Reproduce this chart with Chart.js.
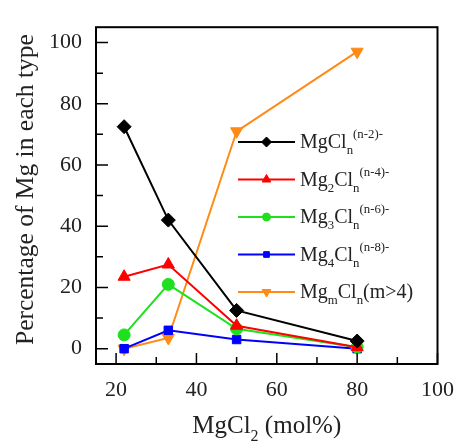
<!DOCTYPE html>
<html><head><meta charset="utf-8">
<script src="https://cdn.jsdelivr.net/npm/chart.js@4/dist/chart.umd.min.js"></script>
<style>html,body{margin:0;padding:0;background:#fff}#wrap{width:467px;height:442px;position:relative}</style>
</head><body><div id="wrap"><canvas id="c" width="467" height="442"></canvas></div>
<script>
// ---- data ----
const mgcl2MolPct = [22, 33, 50, 80];
const mgCln  = [72.5, 42, 12.5, 2.5];
const mg2Cln = [23.5, 27.5, 7.5, 0.5];
const mg3Cln = [4.5, 21, 6.5, 0.5];
const mg4Cln = [0, 6, 3, 0];
const mgmCln = [0, 3.5, 71, 97];
const xTicks = [20, 40, 60, 80, 100];
const yTicks = [0, 20, 40, 60, 80, 100];
const xMinorTicks = [30, 50, 70, 90];
const yMinorTicks = [10, 30, 50, 70, 90];
const seriesLabels = [
  [["MgCl",""],["n","sub"],["(n-2)-","sup"]],
  [["Mg",""],["2","sub"],["Cl",""],["n","sub"],["(n-4)-","sup"]],
  [["Mg",""],["3","sub"],["Cl",""],["n","sub"],["(n-6)-","sup"]],
  [["Mg",""],["4","sub"],["Cl",""],["n","sub"],["(n-8)-","sup"]],
  [["Mg",""],["m","sub"],["Cl",""],["n","sub"],["(m>4)",""]]
];
const xTitle = [["MgCl",""],["2","sub"],[" (mol%)",""]];
const yTitle = "Percentage of Mg in each type";

const SERIF = "'Liberation Serif','Times New Roman',serif";
const series = [mgCln, mg2Cln, mg3Cln, mg4Cln, mgmCln];
const styles = [
  {color:'#000000', pointStyle:'rectRot', r:7, rot:0},
  {color:'#ff0000', pointStyle:'triangle', r:7, rot:0},
  {color:'#1ee01e', pointStyle:'circle', r:6, rot:0},
  {color:'#0000ff', pointStyle:'rect', r:6, rot:0},
  {color:'#ff8a14', pointStyle:'triangle', r:7, rot:180}
];

const datasets = series.map((vals, i) => ({
  label: seriesLabels[i].map(p => p[0]).join(''),
  data: vals.map((v, k) => ({x: mgcl2MolPct[k], y: v})),
  borderColor: styles[i].color,
  backgroundColor: styles[i].color,
  borderWidth: 2,
  pointStyle: styles[i].pointStyle,
  pointRadius: styles[i].r,
  pointRotation: styles[i].rot,
  pointBorderWidth: 1,
  tension: 0
}));

function drawRich(ctx, parts, x, y, size, align) {
  const base = size, small = size * 0.64;
  const widths = parts.map(p => {
    ctx.font = (p[1] ? small : base) + 'px ' + SERIF;
    return ctx.measureText(p[0]).width;
  });
  let total = widths.reduce((a, b) => a + b, 0);
  let cx = align === 'center' ? x - total / 2 : x;
  ctx.textAlign = 'left';
  ctx.textBaseline = 'alphabetic';
  parts.forEach((p, i) => {
    ctx.font = (p[1] ? small : base) + 'px ' + SERIF;
    let dy = p[1] === 'sub' ? size * 0.32 : (p[1] === 'sup' ? -size * 0.5 : 0);
    ctx.fillText(p[0], cx, y + dy);
    cx += widths[i];
  });
}

function drawMarker(ctx, st, x, y, r) {
  ctx.save();
  ctx.fillStyle = st.color; ctx.strokeStyle = st.color; ctx.lineWidth = 1;
  if (Chart.helpers && Chart.helpers.drawPoint) {
    Chart.helpers.drawPoint(ctx, {pointStyle: st.pointStyle, radius: r, rotation: st.rot, borderWidth: 1}, x, y);
  }
  ctx.restore();
}

const framePlugin = {
  id: 'frame',
  afterDraw(chart) {
    const {ctx, chartArea: a, scales} = chart;
    ctx.save();
    ctx.strokeStyle = '#000'; ctx.lineWidth = 2;
    ctx.strokeRect(a.left, a.top, a.right - a.left, a.bottom - a.top);
    ctx.lineWidth = 1.5;
    ctx.beginPath();
    xTicks.forEach(v => { const px = scales.x.getPixelForValue(v); ctx.moveTo(px, a.bottom); ctx.lineTo(px, a.bottom - 11); });
    xMinorTicks.forEach(v => { const px = scales.x.getPixelForValue(v); ctx.moveTo(px, a.bottom); ctx.lineTo(px, a.bottom - 7); });
    yTicks.forEach(v => { const py = scales.y.getPixelForValue(v); ctx.moveTo(a.left, py); ctx.lineTo(a.left + 12, py); });
    yMinorTicks.forEach(v => { const py = scales.y.getPixelForValue(v); ctx.moveTo(a.left, py); ctx.lineTo(a.left + 7, py); });
    ctx.stroke();

    // legend
    const lx0 = 238, lx1 = 295, ly0 = 142, dy = 37.5;
    styles.forEach((st, i) => {
      const y = ly0 + i * dy;
      ctx.strokeStyle = st.color; ctx.lineWidth = 2;
      ctx.beginPath(); ctx.moveTo(lx0, y); ctx.lineTo(lx1, y); ctx.stroke();
      drawMarker(ctx, st, (lx0 + lx1) / 2, y, st.r - 2);
      ctx.fillStyle = '#222';
      drawRich(ctx, seriesLabels[i], lx1 + 5, y + 6, 20, 'left');
    });

    // axis titles
    ctx.fillStyle = '#222';
    drawRich(ctx, xTitle, (a.left + a.right) / 2, 433, 25, 'center');
    ctx.translate(33, (a.top + a.bottom) / 2 - 6);
    ctx.rotate(-Math.PI / 2);
    ctx.font = '25.5px ' + SERIF;
    ctx.textAlign = 'center'; ctx.textBaseline = 'alphabetic';
    ctx.fillText(yTitle, 0, 0);
    ctx.restore();
  }
};

new Chart(document.getElementById('c'), {
  type: 'line',
  data: {datasets},
  options: {
    responsive: false, animation: false, devicePixelRatio: 1,
    layout: {padding: {top: 15, right: 21, left: 0, bottom: 0}},
    plugins: {legend: {display: false}, tooltip: {enabled: false}},
    scales: {
      x: {
        type: 'linear', min: 15, max: 100,
        afterBuildTicks: s => { s.ticks = xTicks.map(v => ({value: v})); },
        afterFit: s => { s.height = 78; },
        grid: {display: false, drawTicks: false}, border: {display: false},
        ticks: {font: {family: SERIF, size: 22}, color: '#222', padding: 13, maxRotation: 0, autoSkip: false}
      },
      y: {
        type: 'linear', min: -5, max: 105,
        afterBuildTicks: s => { s.ticks = yTicks.map(v => ({value: v})); },
        afterFit: s => { s.width = 96; },
        grid: {display: false, drawTicks: false}, border: {display: false},
        ticks: {font: {family: SERIF, size: 22}, color: '#222', padding: 14, autoSkip: false}
      }
    }
  },
  plugins: [framePlugin]
});
</script></body></html>
